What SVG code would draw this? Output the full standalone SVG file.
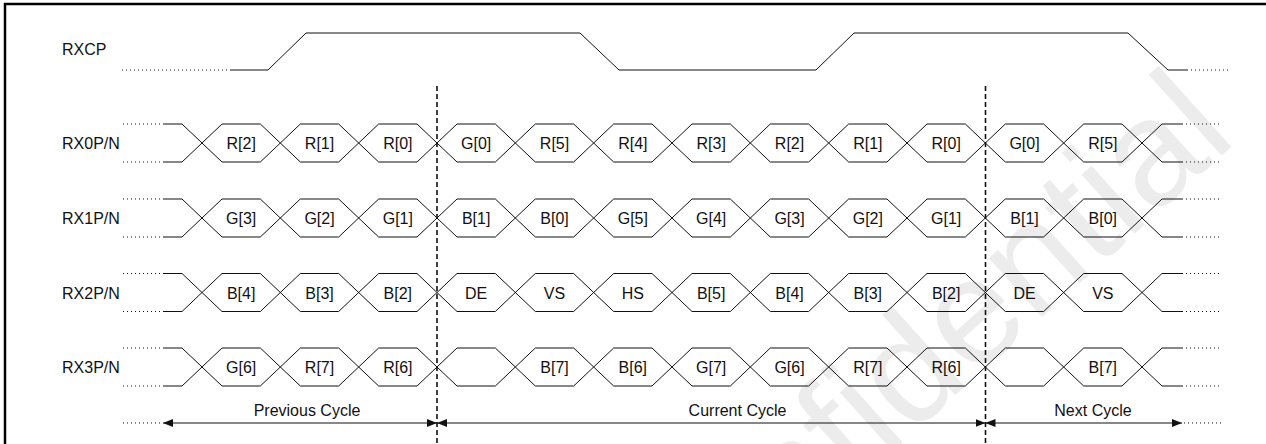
<svg xmlns="http://www.w3.org/2000/svg" width="1266" height="444" viewBox="0 0 1266 444">
<style>
text{font-family:"Liberation Sans",Arial,sans-serif;font-size:16px;fill:#111}
.lbl{text-anchor:middle}
.sig{fill:none;stroke:#111;stroke-width:1}
.dot{fill:none;stroke:#111;stroke-width:1;stroke-dasharray:1 3}
.dash{fill:none;stroke:#111;stroke-width:1.6;stroke-dasharray:5 3}
.arr{fill:none;stroke:#111;stroke-width:1;marker-start:url(#ah);marker-end:url(#ah)}
.wm{font-size:150px;fill:#ececec;text-anchor:start}
</style>
<defs>
<marker id="ah" markerUnits="userSpaceOnUse" markerWidth="10" markerHeight="8" refX="10" refY="4" orient="auto-start-reverse">
<path d="M0,0 L10,4 L0,8 z" fill="#111"/>
</marker>
<g id="bus">
<path class="sig" d="M163,0 H182 L222,38 H260.33 L300.33,0 H338.67 L378.67,38 H417 L457,0 H495.33 L535.33,38 H573.67 L613.67,0 H652 L692,38 H730.33 L770.33,0 H808.67 L848.67,38 H887 L927,0 H965.33 L1005.33,38 H1043.67 L1083.67,0 H1122 L1162,38 H1182"/>
<path class="sig" d="M163,38 H182 L222,0 H260.33 L300.33,38 H338.67 L378.67,0 H417 L457,38 H495.33 L535.33,0 H573.67 L613.67,38 H652 L692,0 H730.33 L770.33,38 H808.67 L848.67,0 H887 L927,38 H965.33 L1005.33,0 H1043.67 L1083.67,38 H1122 L1162,0 H1182"/>
<path class="dot" d="M123,0 H163 M123,38 H163 M1182,0 H1222 M1182,38 H1222"/>
</g>
</defs>
<rect width="1266" height="444" fill="#fff"/>
<text class="wm" transform="translate(650,670) rotate(-42)">Confidential</text>
<rect x="5" y="4" width="1300" height="500" fill="none" stroke="#000" stroke-width="2.5"/>

<g id="rxcp">
<text x="62" y="55">RXCP</text>
<path class="dot" d="M122,70 H230 M1187,70 H1228"/>
<path class="sig" d="M230,70 H268 L306,33 H580 L619,70 H816 L854,33 H1128 L1168,70 H1187"/>
</g>

<g id="rx0" transform="translate(0,124)">
<text x="62" y="25">RX0P/N</text>
<use href="#bus"/>
<g class="lbl">
<text class="lbl" x="241.17" y="25">R[2]</text><text class="lbl" x="319.5" y="25">R[1]</text><text class="lbl" x="397.83" y="25">R[0]</text><text class="lbl" x="476.17" y="25">G[0]</text><text class="lbl" x="554.5" y="25">R[5]</text><text class="lbl" x="632.83" y="25">R[4]</text><text class="lbl" x="711.17" y="25">R[3]</text><text class="lbl" x="789.5" y="25">R[2]</text><text class="lbl" x="867.83" y="25">R[1]</text><text class="lbl" x="946.17" y="25">R[0]</text><text class="lbl" x="1024.5" y="25">G[0]</text><text class="lbl" x="1102.83" y="25">R[5]</text>
</g>
</g>

<g id="rx1" transform="translate(0,199)">
<text x="62" y="25">RX1P/N</text>
<use href="#bus"/>
<text class="lbl" x="241.17" y="25">G[3]</text><text class="lbl" x="319.5" y="25">G[2]</text><text class="lbl" x="397.83" y="25">G[1]</text><text class="lbl" x="476.17" y="25">B[1]</text><text class="lbl" x="554.5" y="25">B[0]</text><text class="lbl" x="632.83" y="25">G[5]</text><text class="lbl" x="711.17" y="25">G[4]</text><text class="lbl" x="789.5" y="25">G[3]</text><text class="lbl" x="867.83" y="25">G[2]</text><text class="lbl" x="946.17" y="25">G[1]</text><text class="lbl" x="1024.5" y="25">B[1]</text><text class="lbl" x="1102.83" y="25">B[0]</text>
</g>

<g id="rx2" transform="translate(0,273.5)">
<text x="62" y="25">RX2P/N</text>
<use href="#bus"/>
<text class="lbl" x="241.17" y="25">B[4]</text><text class="lbl" x="319.5" y="25">B[3]</text><text class="lbl" x="397.83" y="25">B[2]</text><text class="lbl" x="476.17" y="25">DE</text><text class="lbl" x="554.5" y="25">VS</text><text class="lbl" x="632.83" y="25">HS</text><text class="lbl" x="711.17" y="25">B[5]</text><text class="lbl" x="789.5" y="25">B[4]</text><text class="lbl" x="867.83" y="25">B[3]</text><text class="lbl" x="946.17" y="25">B[2]</text><text class="lbl" x="1024.5" y="25">DE</text><text class="lbl" x="1102.83" y="25">VS</text>
</g>

<g id="rx3" transform="translate(0,348)">
<text x="62" y="25">RX3P/N</text>
<use href="#bus"/>
<text class="lbl" x="241.17" y="25">G[6]</text><text class="lbl" x="319.5" y="25">R[7]</text><text class="lbl" x="397.83" y="25">R[6]</text><text class="lbl" x="554.5" y="25">B[7]</text><text class="lbl" x="632.83" y="25">B[6]</text><text class="lbl" x="711.17" y="25">G[7]</text><text class="lbl" x="789.5" y="25">G[6]</text><text class="lbl" x="867.83" y="25">R[7]</text><text class="lbl" x="946.17" y="25">R[6]</text><text class="lbl" x="1102.83" y="25">B[7]</text>
</g>

<g id="connectors">
<path class="dash" d="M437,86 V444 M985.5,86 V444"/>
<path class="dot" d="M123,423 H160 M1184,423 H1222"/>
<path class="arr" d="M163,423 H437"/>
<path class="arr" d="M437,423 H985.5"/>
<path class="arr" d="M985.5,423 H1182"/>
</g>

<g id="cycles">
<text class="lbl" x="307" y="416">Previous Cycle</text>
<text class="lbl" x="737.5" y="416">Current Cycle</text>
<text class="lbl" x="1093" y="416">Next Cycle</text>
</g>
</svg>
